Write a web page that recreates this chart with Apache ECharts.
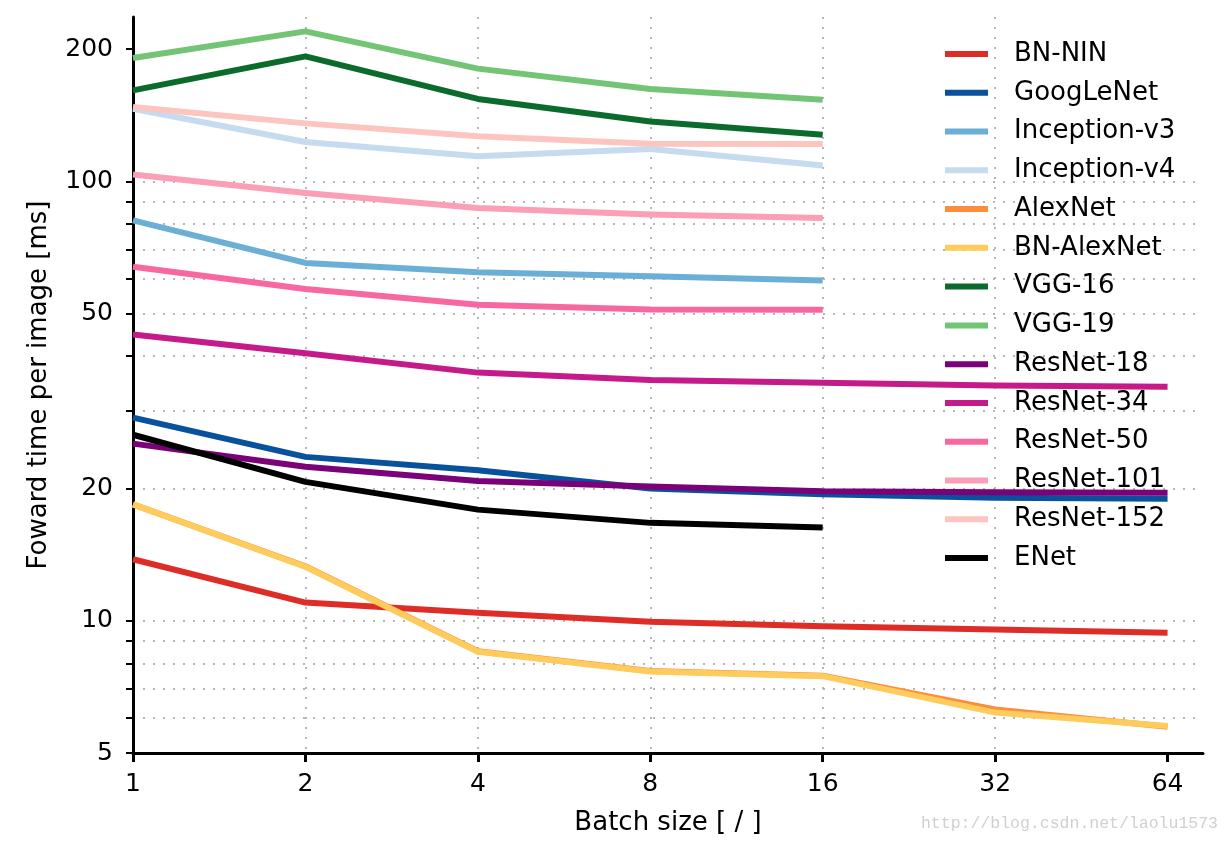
<!DOCTYPE html>
<html><head><meta charset="utf-8">
<script src="https://cdn.jsdelivr.net/npm/echarts@6/dist/echarts.min.js"></script>
<style>html,body{margin:0;padding:0;background:#fff}#c{width:1228px;height:844px}</style>
</head><body><div id="c"></div>
<script>
const batchSizes = [1, 2, 4, 8, 16, 32, 64];
const bnNin      = [13.8, 11.0, 10.43, 9.95, 9.72, 9.55, 9.39];
const googLeNet  = [29.0, 23.6, 22.0, 20.0, 19.4, 19.05, 18.95];
const inceptionV3 = [81.5, 65.2, 62.1, 60.8, 59.5];
const inceptionV4 = [146.3, 122.9, 114.0, 118.5, 108.6];
const alexNet    = [18.4, 13.3, 8.52, 7.68, 7.5, 6.28, 5.74];
const bnAlexNet  = [18.4, 13.27, 8.5, 7.66, 7.48, 6.18, 5.76];
const vgg16      = [161.1, 192.5, 154.0, 136.9, 127.7];
const vgg19      = [190.9, 219.4, 180.5, 162.3, 153.4];
const resNet18   = [25.3, 22.4, 20.8, 20.2, 19.7, 19.6, 19.55];
const resNet34   = [44.8, 40.6, 36.7, 35.3, 34.8, 34.3, 34.1];
const resNet50   = [63.9, 56.9, 52.4, 51.1, 51.0];
const resNet101  = [103.6, 94.1, 87.0, 84.1, 82.5];
const resNet152  = [147.6, 135.5, 126.6, 121.8, 121.6];
const eNet       = [26.5, 20.7, 17.9, 16.7, 16.3];
const seriesNames = ['BN-NIN','GoogLeNet','Inception-v3','Inception-v4','AlexNet','BN-AlexNet','VGG-16','VGG-19','ResNet-18','ResNet-34','ResNet-50','ResNet-101','ResNet-152','ENet'];
const seriesValues = [bnNin, googLeNet, inceptionV3, inceptionV4, alexNet, bnAlexNet, vgg16, vgg19, resNet18, resNet34, resNet50, resNet101, resNet152, eNet];
const seriesColors = ['#de2d26','#08519c','#6baed6','#c6dbef','#fd8d3c','#fecc5c','#0b6b2d','#74c476','#7a0177','#c51b8a','#f768a1','#fa9fb5','#fcc5c0','#000000'];
const yTickValues = [5, 6, 7, 8, 9, 10, 20, 30, 40, 50, 60, 70, 80, 90, 100, 200];
const yLabelValues = [5, 10, 20, 50, 100, 200];
const xTickValues = [1, 2, 4, 8, 16, 32, 64];

const FONT = 'DejaVu Sans';
const chart = echarts.init(document.getElementById('c'));
const series = seriesNames.map((n, i) => ({
  name: n,
  type: 'line',
  data: seriesValues[i].map((v, k) => [batchSizes[k], v]),
  showSymbol: false,
  symbol: 'none',
  lineStyle: { width: 6, color: seriesColors[i], cap: 'butt', join: 'round' },
  itemStyle: { color: seriesColors[i] },
  z: 2 + i * 0.01,
  emphasis: { disabled: true },
  animation: false
}));

chart.setOption({
  animation: false,
  backgroundColor: '#fff',
  grid: { left: 133, right: 25, top: 17, bottom: 91, containLabel: false },
  xAxis: {
    type: 'log', logBase: 2, min: 1, max: 73.8,
    name: 'Batch size [ / ]', nameLocation: 'middle', nameGap: 57,
    nameTextStyle: { fontFamily: FONT, fontSize: 26, color: '#000' },
    axisLine: { lineStyle: { color: '#000', width: 3 } },
    axisTick: { inside: false, length: 9, lineStyle: { color: '#000', width: 3 }, customValues: xTickValues },
    axisLabel: { fontFamily: FONT, fontSize: 25, color: '#000', margin: 19, customValues: xTickValues,
      formatter: v => String(Math.round(v)) },
    splitLine: { show: true, showMinLine: false, showMaxLine: false, lineStyle: { color: '#a0a0a0', width: 1.5, type: [2, 8] } }
  },
  yAxis: {
    type: 'log', logBase: 10, min: 5, max: 236.6,
    name: 'Foward time per image [ms]', nameLocation: 'middle', nameGap: 81,
    nameTextStyle: { fontFamily: FONT, fontSize: 26, color: '#000' },
    axisLine: { lineStyle: { color: '#000', width: 3 } },
    axisTick: { inside: false, length: 7, lineStyle: { color: '#000', width: 2 }, customValues: yTickValues },
    axisLabel: { fontFamily: FONT, fontSize: 25, color: '#000', margin: 20, customValues: yLabelValues,
      formatter: v => String(Math.round(v)) },
    splitLine: { show: true, showMinLine: true, showMaxLine: false, customValues: yTickValues, lineStyle: { color: '#a0a0a0', width: 1.5, type: [2, 8] } }
  },
  legend: {
    orient: 'vertical', left: 945, top: 34.6, padding: 0,
    itemWidth: 43, itemHeight: 6, itemGap: 0, icon: 'rect',
    textStyle: { fontFamily: FONT, fontSize: 26, color: '#000', lineHeight: 38.77, padding: [0, 0, 0, 21] },
    data: seriesNames.map((n, i) => ({ name: n, itemStyle: { color: seriesColors[i] } })),
    selectedMode: false
  },
  graphic: [{
    type: 'text', right: 10, top: 815,
    style: { text: 'http://blog.csdn.net/laolu1573', fill: '#d0d0d0', fontFamily: 'Liberation Mono', fontSize: 16.5 }
  }],
  series: series
});
</script></body></html>
